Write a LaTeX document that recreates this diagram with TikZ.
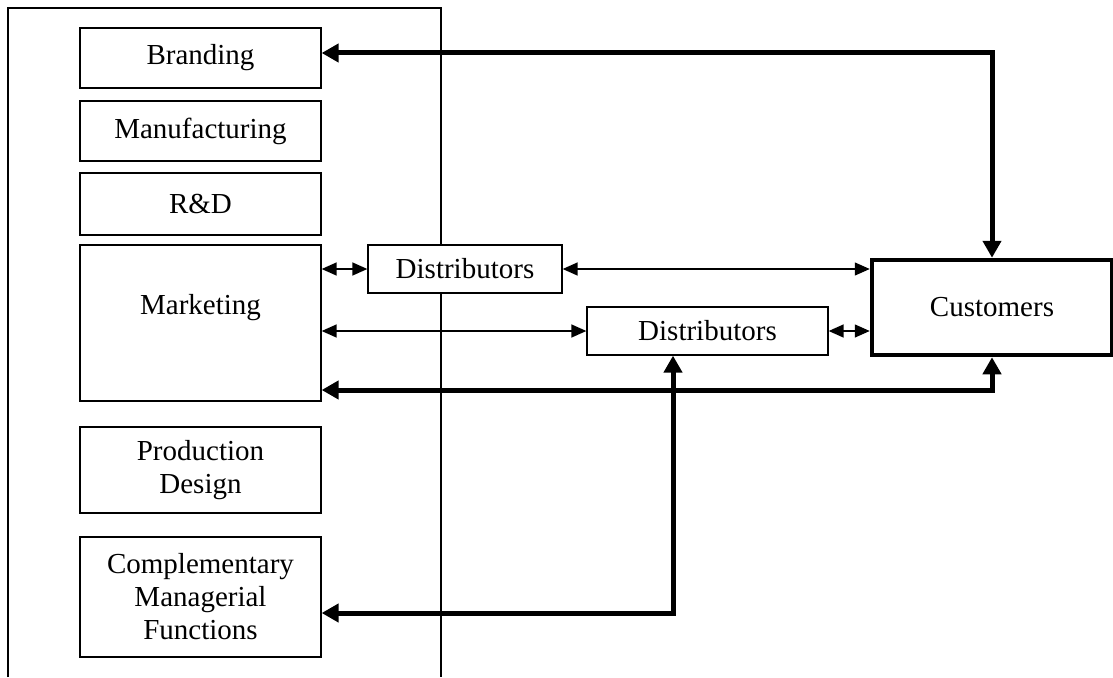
\documentclass[tikz,border=0pt]{standalone}
\usepackage{fontspec}
\setmainfont{Liberation Serif}
\usetikzlibrary{arrows.meta}
\begin{document}
\begin{tikzpicture}[x=1pt,y=-1pt,
  box/.style={draw, line width=1.3pt, fill=white, inner sep=0pt, align=center,
    font=\fontsize{29}{33}\selectfont},
  flow/.style={line width=1.4pt,
    {Triangle[length=15pt,width=13pt]}-{Triangle[length=15pt,width=13pt]}},
  mainflow/.style={line width=5pt,
    {Triangle[length=17pt,width=18pt]}-{Triangle[length=17pt,width=18pt]}},
]
\useasboundingbox (0,0) rectangle (1113,677);

% firm boundary (open at the bottom)
\coordinate (fbl) at (8,677);
\coordinate (ftl) at (8,8);
\coordinate (ftr) at (441,8);
\coordinate (fbr) at (441,677);
\draw[line width=1.3pt] (fbl) -- (ftl) -- (ftr) -- (fbr);

% internal functions
\node[box, minimum width=241pt, minimum height=60pt] (brand) at (200.5,58) {Branding};
\node[box, minimum width=241pt, minimum height=60pt] (manu) at (200.5,131) {Manufacturing};
\node[box, minimum width=241pt, minimum height=62pt] (rd) at (200.5,204) {R\&D};
\node[box, minimum width=241pt, minimum height=156pt] (mkt) at (200.5,323) {};
\node[font=\fontsize{29}{33}\selectfont, inner sep=0pt] (mkttext) at (200.5,308) {Marketing};
\node[box, minimum width=241pt, minimum height=86pt] (prod) at (200.5,470) {Production\\Design};
\node[box, minimum width=241pt, minimum height=120pt] (comp) at (200.5,597) {Complementary\\Managerial\\Functions};

% channels and market
\node[box, minimum width=194pt, minimum height=48pt] (dist1) at (465,269) {Distributors};
\node[box, minimum width=241pt, minimum height=48pt] (dist2) at (707.5,331) {Distributors};
\node[box, line width=4.5pt, minimum width=240pt, minimum height=95pt] (cust) at (992,307.5) {Customers};

% thin channel links
\draw[flow] (mkt.east |- dist1.west) -- (dist1.west);
\draw[flow] (dist1.east) -- (cust.west |- dist1.east);
\draw[flow] (mkt.east |- dist2.west) -- (dist2.west);
\draw[flow] (dist2.east) -- (cust.west |- dist2.east);

% heavy links
\coordinate (bj) at (992,53);
\draw[mainflow] (brand.east |- bj) -- (bj) -- (cust.north);
\coordinate (cb) at (992,390);
\draw[mainflow] (cust.south) -- (cb) -- (mkt.east |- cb);
\coordinate (cc) at (673,613);
\draw[mainflow] (comp.east |- cc) -- (cc) -- (dist2.south -| cc);
\end{tikzpicture}
\end{document}
